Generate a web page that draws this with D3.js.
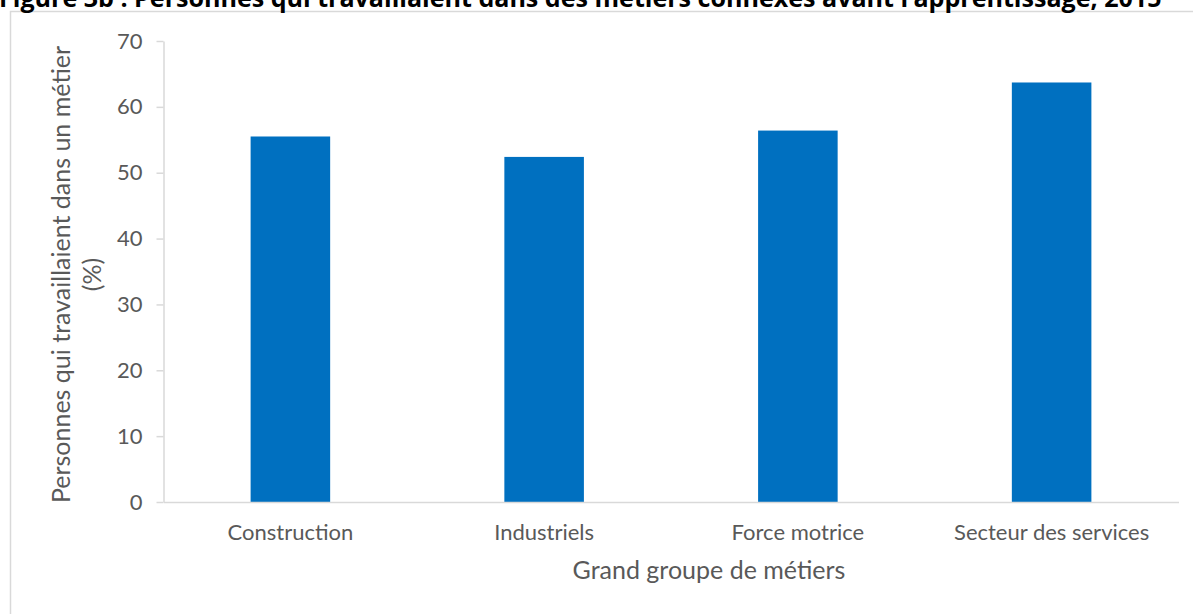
<!DOCTYPE html>
<html lang="fr">
<head>
<meta charset="utf-8">
<script src="https://cdn.jsdelivr.net/npm/d3@7/dist/d3.min.js"></script>
<style>
  html, body { margin: 0; padding: 0; background: #fff; overflow: hidden; }
  svg { display: block; font-family: Lato, "Open Sans", sans-serif; }
</style>
</head>
<body>
<svg id="chart" width="1193" height="614"></svg>
<script>
// Groupes de métiers et part (%) des apprentis ayant déjà travaillé dans un métier connexe
const categories = ["Construction", "Industriels", "Force motrice", "Secteur des services"];
const values = [55.5, 52.4, 56.4, 63.7];
const yTicks = [0, 10, 20, 30, 40, 50, 60, 70];

const titleText = "Figure 3b : Personnes qui travaillaient dans des métiers connexes avant l’apprentissage, 2015";
const yTitleLines = ["Personnes qui travaillaient dans un métier", "(%)"];
const xTitle = "Grand groupe de métiers";

const svg = d3.select("#chart");
const textColor = "#595959";
const lineColor = "#d9d9d9";

// Cadre du graphique
svg.append("rect")
  .attr("x", 10.5).attr("y", 11.5)
  .attr("width", 1300).attr("height", 700)
  .attr("fill", "#fff")
  .attr("stroke", lineColor).attr("stroke-width", 1.5);

// Titre, ajusté à la largeur de la page
const title = svg.append("text")
  .attr("x", -1).attr("y", 7)
  .attr("font-family", "'Open Sans', sans-serif")
  .attr("font-size", 20)
  .attr("font-weight", "bold")
  .attr("fill", "#000")
  .text(titleText);
const tw = title.node().getComputedTextLength();
title.attr("font-size", 20 * 1163 / tw);

const plot = { left: 163.5, right: 1178.5, top: 41, bottom: 502 };

const x = d3.scaleBand()
  .domain(categories)
  .range([plot.left, plot.right])
  .paddingInner(0.6865)
  .paddingOuter(0.3433);

const y = d3.scaleLinear()
  .domain([0, 70])
  .range([plot.bottom, plot.top]);

// Barres
svg.append("g")
  .selectAll("rect")
  .data(categories)
  .join("rect")
  .attr("x", d => x(d))
  .attr("width", x.bandwidth())
  .attr("y", (d, i) => y(values[i]))
  .attr("height", (d, i) => y(0) - y(values[i]))
  .attr("fill", "#0070C0");

// Axe vertical
const yAxis = svg.append("g")
  .attr("transform", `translate(${plot.left},0)`)
  .call(d3.axisLeft(y).tickValues(yTicks).tickSize(7).tickPadding(14).tickSizeOuter(0));
yAxis.select(".domain").attr("stroke", lineColor).attr("stroke-width", 1.5);
yAxis.selectAll(".tick line").attr("stroke", lineColor).attr("stroke-width", 1.5);
yAxis.selectAll(".tick text")
  .attr("fill", textColor)
  .attr("font-size", 22)
  .attr("font-family", "Lato, sans-serif");

// Axe horizontal
const xAxis = svg.append("g")
  .attr("transform", `translate(0,${plot.bottom})`)
  .call(d3.axisBottom(x).tickSize(0).tickPadding(22).tickSizeOuter(0));
xAxis.select(".domain").attr("stroke", lineColor).attr("stroke-width", 1.5);
xAxis.selectAll(".tick text")
  .attr("fill", textColor)
  .attr("font-size", 22)
  .attr("font-family", "Lato, sans-serif");

// Titre de l'axe horizontal
svg.append("text")
  .attr("x", 709)
  .attr("y", 579)
  .attr("text-anchor", "middle")
  .attr("font-size", 25)
  .attr("fill", textColor)
  .text(xTitle);

// Titre de l'axe vertical (deux lignes)
const yCenter = (plot.top + plot.bottom) / 2 + 3;
svg.append("text")
  .attr("transform", `translate(70,${yCenter}) rotate(-90)`)
  .attr("text-anchor", "middle")
  .attr("font-size", 25)
  .attr("fill", textColor)
  .selectAll("tspan")
  .data(yTitleLines)
  .join("tspan")
  .attr("x", 0)
  .attr("dy", (d, i) => i === 0 ? 0 : 31)
  .text(d => d);
</script>
</body>
</html>
